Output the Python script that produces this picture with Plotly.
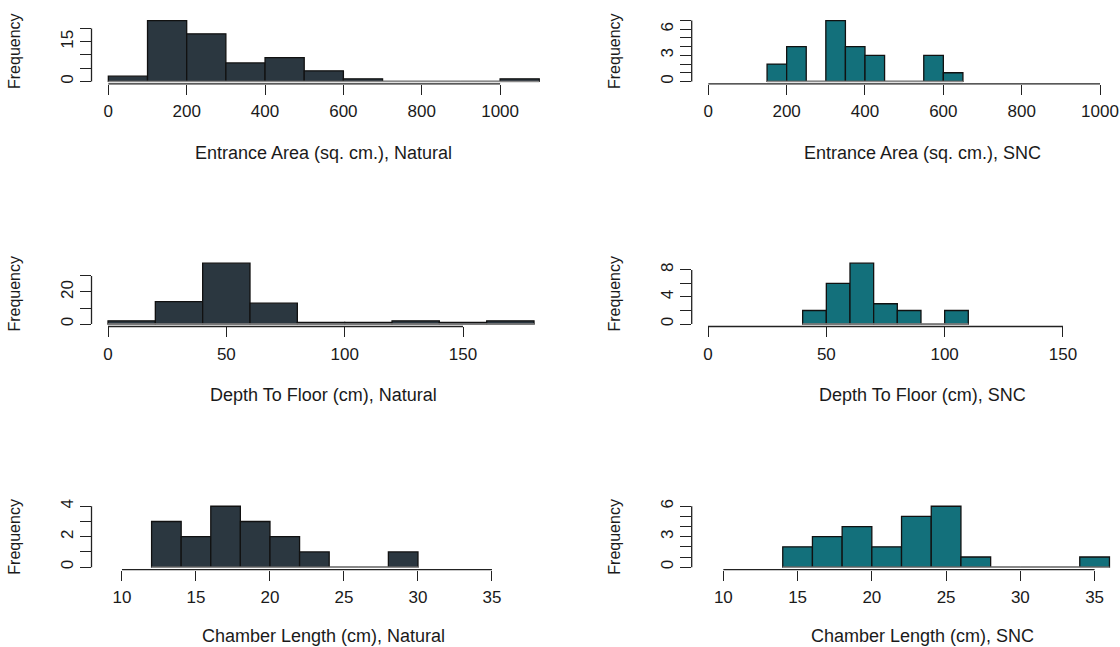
import plotly.graph_objects as go

# ---------------- data ----------------
ENT_NAT_EDGES = [0, 100, 200, 300, 400, 500, 600, 700, 800, 900, 1000, 1100]
ENT_NAT_COUNTS = [2, 23, 18, 7, 9, 4, 1, 0, 0, 0, 1]

ENT_SNC_EDGES = [150, 200, 250, 300, 350, 400, 450, 500, 550, 600, 650]
ENT_SNC_COUNTS = [2, 4, 0, 7, 4, 3, 0, 0, 3, 1]

DEP_NAT_EDGES = [0, 20, 40, 60, 80, 100, 120, 140, 160, 180]
DEP_NAT_COUNTS = [2, 14, 38, 13, 1, 1, 2, 1, 2]

DEP_SNC_EDGES = [40, 50, 60, 70, 80, 90, 100, 110]
DEP_SNC_COUNTS = [2, 6, 9, 3, 2, 0, 2]

CH_NAT_EDGES = [12, 14, 16, 18, 20, 22, 24, 26, 28, 30]
CH_NAT_COUNTS = [3, 2, 4, 3, 2, 1, 0, 0, 1]

CH_SNC_EDGES = [14, 16, 18, 20, 22, 24, 26, 28, 30, 32, 34, 36]
CH_SNC_COUNTS = [2, 3, 4, 2, 5, 6, 1, 0, 0, 0, 1]

X_TICKS_ENT = [0, 200, 400, 600, 800, 1000]
X_TICKS_DEP = [0, 50, 100, 150]
X_TICKS_CH = [10, 15, 20, 25, 30, 35]

Y_TICKS = {
    "ent_nat": ([0, 5, 10, 15, 20], ["0", "", "", "15", ""]),
    "ent_snc": ([0, 1, 2, 3, 4, 5, 6, 7], ["0", "", "", "3", "", "", "6", ""]),
    "dep_nat": ([0, 10, 20, 30], ["0", "", "20", ""]),
    "dep_snc": ([0, 2, 4, 6, 8], ["0", "", "4", "", "8"]),
    "ch_nat": ([0, 1, 2, 3, 4], ["0", "", "2", "", "4"]),
    "ch_snc": ([0, 1, 2, 3, 4, 5, 6], ["0", "", "", "3", "", "", "6"]),
}

TITLES = {
    "ent_nat": "Entrance Area (sq. cm.), Natural",
    "ent_snc": "Entrance Area (sq. cm.), SNC",
    "dep_nat": "Depth To Floor (cm), Natural",
    "dep_snc": "Depth To Floor (cm), SNC",
    "ch_nat": "Chamber Length (cm), Natural",
    "ch_snc": "Chamber Length (cm), SNC",
}

NAT_COLOR = "#2b3740"
SNC_COLOR = "#13707b"

# ---------------- layout geometry ----------------
W, H = 1120, 647
FONT = "Liberation Sans, Arial, Helvetica, sans-serif"
TICK_SIZE = 17
TITLE_SIZE = 18
FREQ_SIZE = 16

LEFT_DOM = [91.5 / W, 556.5 / W]
RIGHT_DOM = [691.7 / W, 1.0]
ROWS = [(13.2, 79.5), (257.7, 324.0), (502.7, 569.0)]  # px top, bottom
TITLE_Y = [149, 393, 636]

panels = [
    # key, edges, counts, color, xticks, xrange, col, row
    ("ent_nat", ENT_NAT_EDGES, ENT_NAT_COUNTS, NAT_COLOR, X_TICKS_ENT, [-43, 1144], 0, 0),
    ("ent_snc", ENT_SNC_EDGES, ENT_SNC_COUNTS, SNC_COLOR, X_TICKS_ENT, [-42.4, 1051], 1, 0),
    ("dep_nat", DEP_NAT_EDGES, DEP_NAT_COUNTS, NAT_COLOR, X_TICKS_DEP, [-6.97, 189.5], 0, 1),
    ("dep_snc", DEP_SNC_EDGES, DEP_SNC_COUNTS, SNC_COLOR, X_TICKS_DEP, [-6.89, 174.1], 1, 1),
    ("ch_nat", CH_NAT_EDGES, CH_NAT_COUNTS, NAT_COLOR, X_TICKS_CH, [7.94, 39.36], 0, 2),
    ("ch_snc", CH_SNC_EDGES, CH_SNC_COUNTS, SNC_COLOR, X_TICKS_CH, [7.87, 36.71], 1, 2),
]

fig = go.Figure()
layout = dict(
    width=W, height=H,
    margin=dict(l=0, r=0, t=0, b=0),
    paper_bgcolor="white", plot_bgcolor="white",
    showlegend=False, barmode="overlay",
    font=dict(family=FONT, size=TICK_SIZE, color="#1a1a1a"),
)
shapes = []
annotations = []
AX = "#222222"

for i, (key, edges, counts, color, xticks, xrange, col, row) in enumerate(panels):
    n = i + 1
    xa = "x" if n == 1 else f"x{n}"
    ya = "y" if n == 1 else f"y{n}"
    xkey = "xaxis" if n == 1 else f"xaxis{n}"
    ykey = "yaxis" if n == 1 else f"yaxis{n}"

    centers = [(a + b) / 2 for a, b in zip(edges[:-1], edges[1:])]
    widths = [b - a for a, b in zip(edges[:-1], edges[1:])]

    # baseline of the empty bins (drawn as thin grey line like R's zero-height rects)
    fig.add_trace(go.Scatter(
        x=[edges[0], edges[-1]], y=[0, 0], mode="lines",
        line=dict(color="#8a8a8a", width=1.5),
        xaxis=xa, yaxis=ya, hoverinfo="skip",
    ))
    fig.add_trace(go.Bar(
        x=centers, y=counts, width=widths,
        marker=dict(color=color, line=dict(color="#111111", width=1.3)),
        xaxis=xa, yaxis=ya,
    ))

    ymax = max(counts)
    ytv, ytt = Y_TICKS[key]
    top, bot = ROWS[row]
    ydom = [1 - bot / H, 1 - top / H]
    xdom = LEFT_DOM if col == 0 else RIGHT_DOM

    layout[xkey] = dict(
        domain=xdom, anchor=ya, range=xrange,
        tickvals=xticks, ticktext=[str(v) for v in xticks],
        ticks="outside", ticklen=10, tickwidth=1.3, tickcolor=AX,
        ticklabelstandoff=2,
        showline=False, showgrid=False, zeroline=False,
        tickfont=dict(family=FONT, size=TICK_SIZE, color="#1a1a1a"),
        fixedrange=True,
    )
    layout[ykey] = dict(
        domain=ydom, anchor=xa, range=[-0.04 * ymax, 1.04 * ymax],
        tickvals=ytv, ticktext=ytt, tickangle=-90,
        ticks="outside", ticklen=11, tickwidth=1.3, tickcolor=AX,
        showline=False, showgrid=False, zeroline=False,
        tickfont=dict(family=FONT, size=TICK_SIZE, color="#1a1a1a"),
        fixedrange=True,
    )

    # R-style axis lines spanning the first to last tick only
    shapes.append(dict(type="line", xref=xa, yref=f"{ya} domain",
                       x0=xticks[0], x1=xticks[-1], y0=0, y1=0,
                       line=dict(color=AX, width=1.3)))
    shapes.append(dict(type="line", xref=f"{xa} domain", yref=ya,
                       x0=0, x1=0, y0=ytv[0], y1=ytv[-1],
                       line=dict(color=AX, width=1.3)))

    # axis titles
    title_y = TITLE_Y[row]
    title_x = 323 if col == 0 else 922
    annotations.append(dict(
        text=TITLES[key], xref="paper", yref="paper",
        x=title_x / W, y=1 - title_y / H, xanchor="center", yanchor="middle",
        showarrow=False, font=dict(family=FONT, size=TITLE_SIZE, color="#1a1a1a"),
    ))
    freq_x = 15 if col == 0 else 615
    annotations.append(dict(
        text="Frequency", xref="paper", yref="paper",
        x=freq_x / W, y=1 - ((top + bot) / 2) / H, xanchor="center", yanchor="middle",
        textangle=-90, showarrow=False,
        font=dict(family=FONT, size=FREQ_SIZE, color="#1a1a1a"),
    ))

layout["shapes"] = shapes
layout["annotations"] = annotations
fig.update_layout(**layout)
fig.write_html(
    "out.html",
    config={"displayModeBar": False},
    post_script="document.body.style.margin='0';document.body.style.overflow='hidden';",
)
